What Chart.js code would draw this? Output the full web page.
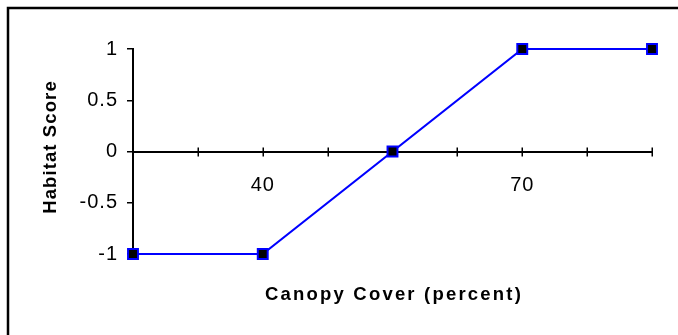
<!DOCTYPE html>
<html>
<head>
<meta charset="utf-8">
<script src="https://cdn.jsdelivr.net/npm/chart.js@4"></script>
<style>
  body { margin: 0; background: #fff; }
  #wrap { width: 678px; height: 335px; position: relative; }
</style>
</head>
<body>
<div id="wrap"><canvas id="habitat"></canvas></div>
<script>
// canopy cover (percent) vs habitat score
const canopyCover = [25, 40, 55, 70, 85];
const habitatScore = [-1, -1, 0, 1, 1];
const xTickLabels = [40, 70];
const xTitle = "Canopy Cover (percent)";
const yTitle = "Habitat Score";

const FONT = '"Liberation Sans", Arial, sans-serif';

// border round the whole chart, only top and left edges fall inside the canvas
const framePlugin = {
    id: 'frame',
    afterDraw(chart) {
        const ctx = chart.ctx;
        ctx.save();
        ctx.strokeStyle = '#000';
        ctx.lineWidth = 2.5;
        ctx.strokeRect(8, 8, 760, 420);

        // axis titles, spaced out a bit
        ctx.fillStyle = '#000';
        ctx.font = 'bold 18.5px ' + FONT;
        ctx.textAlign = 'center';
        ctx.textBaseline = 'middle';
        ctx.letterSpacing = '2.2px';
        ctx.fillText(xTitle, 394, 295);
        ctx.translate(51, 147);
        ctx.rotate(-Math.PI / 2);
        ctx.letterSpacing = '1.1px';
        ctx.fillText(yTitle, 0, 0);
        ctx.restore();
    }
};

// x tick marks that cross the axis line at y = 0
const crossTicks = {
    id: 'crossTicks',
    beforeDatasetsDraw(chart) {
        const ctx = chart.ctx;
        const xs = chart.scales.x;
        const y0 = chart.scales.y.getPixelForValue(0);
        ctx.save();
        ctx.strokeStyle = '#000';
        ctx.lineWidth = 1.5;
        xs.ticks.forEach(t => {
            const px = Math.round(xs.getPixelForValue(t.value)) + 0.25;
            ctx.beginPath();
            ctx.moveTo(px, y0 - 4);
            ctx.lineTo(px, y0 + 5);
            ctx.stroke();
        });
        ctx.restore();
    }
};

// slightly wider tick text
const tickSpacing = {
    id: 'tickSpacing',
    beforeDraw(chart) { chart.ctx.letterSpacing = '1px'; },
    afterDraw(chart) { chart.ctx.letterSpacing = '0px'; }
};

new Chart(document.getElementById('habitat'), {
    type: 'line',
    data: {
        datasets: [{
            data: canopyCover.map((x, i) => ({ x: x, y: habitatScore[i] })),
            borderColor: '#0000ff',
            borderWidth: 2.2,
            pointStyle: 'rect',
            pointRadius: 7,
            pointHoverRadius: 7,
            pointBackgroundColor: '#000',
            pointBorderColor: '#0000ff',
            pointBorderWidth: 2,
            tension: 0,
            clip: false
        }]
    },
    options: {
        responsive: true,
        maintainAspectRatio: false,
        animation: false,
        events: [],
        layout: { padding: { left: 60, right: 26, top: 49, bottom: 81 } },
        plugins: {
            legend: { display: false },
            tooltip: { enabled: false }
        },
        scales: {
            x: {
                type: 'linear',
                position: { y: 0 },
                min: 25,
                max: 85,
                ticks: {
                    stepSize: 7.5,
                    padding: 22,
                    autoSkip: false,
                    maxRotation: 0,
                    color: '#000',
                    font: { family: FONT, size: 20 },
                    callback: v => xTickLabels.includes(v) ? String(v) : ''
                },
                grid: { display: true, drawOnChartArea: false, drawTicks: false },
                border: { color: '#000', width: 2 }
            },
            y: {
                min: -1,
                max: 1,
                ticks: {
                    stepSize: 0.5,
                    padding: 9,
                    color: '#000',
                    font: { family: FONT, size: 20 },
                    callback: v => String(v)
                },
                grid: { drawOnChartArea: false, tickLength: 6, color: '#000', lineWidth: 1.5 },
                border: { color: '#000', width: 2 },
                afterFit: s => { s.width = 73; }
            }
        }
    },
    plugins: [tickSpacing, crossTicks, framePlugin]
});
</script>
</body>
</html>
